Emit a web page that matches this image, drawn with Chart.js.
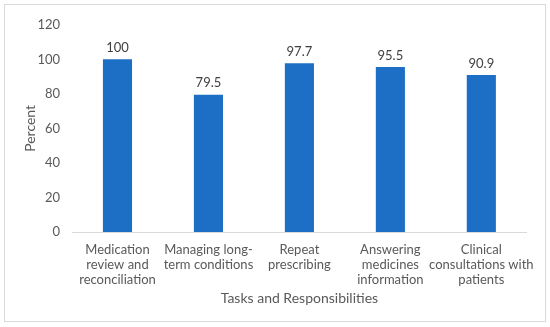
<!DOCTYPE html>
<html>
<head>
<meta charset="utf-8">
<script src="https://cdn.jsdelivr.net/npm/chart.js@4"></script>
<style>
  body { margin: 0; background: #fff; }
  #box { position: absolute; left: 4px; top: 4px; width: 540px; height: 316px; border: 1px solid #d9d9d9; }
</style>
</head>
<body>
<div id="box"><canvas id="myChart" width="540" height="316"></canvas></div>
<script>
// chart data
const categories = [
    ['Medication', 'review and', 'reconciliation'],
    ['Managing long-', 'term conditions'],
    ['Repeat', 'prescribing'],
    ['Answering', 'medicines', 'information'],
    ['Clinical', 'consultations with', 'patients']
]
const percent = [100, 79.5, 97.7, 95.5, 90.9]
const yTicks = [0, 20, 40, 60, 80, 100, 120]

const font = "Lato, 'Liberation Sans', sans-serif"
const grey = '#595959'

// draws the value above each bar
const valueLabels = {
    id: 'valueLabels',
    afterDatasetsDraw(chart) {
        const ctx = chart.ctx
        const meta = chart.getDatasetMeta(0)
        ctx.save()
        ctx.font = '13px ' + font
        ctx.fillStyle = '#404040'
        ctx.textAlign = 'center'
        ctx.textBaseline = 'bottom'
        meta.data.forEach((bar, i) => {
            ctx.fillText(String(percent[i]), bar.x, bar.y - 5)
        })
        ctx.restore()
    }
}

const ctx = document.getElementById('myChart')
const chart = new Chart(ctx, {
    type: 'bar',
    data: {
        labels: categories,
        datasets: [{
            data: percent,
            backgroundColor: '#1c6fc4',
            barPercentage: 0.64,
            categoryPercentage: 0.5
        }]
    },
    options: {
        responsive: false,
        animation: false,
        layout: { padding: { top: 13, right: 14, bottom: 14, left: 13 } },
        plugins: {
            legend: { display: false },
            tooltip: { enabled: false }
        },
        scales: {
            x: {
                grid: { display: false, drawTicks: false },
                border: { color: '#d9d9d9' },
                ticks: { color: grey, font: { family: font, size: 13, lineHeight: 1.15 }, padding: 10, maxRotation: 0, autoSkip: false },
                title: { display: true, text: 'Tasks and Responsibilities', color: grey, font: { family: font, size: 14 }, padding: { top: 2, bottom: 0 } },
                afterFit(scale) { scale.height = 75 }
            },
            y: {
                min: 0,
                max: 120,
                afterBuildTicks(scale) { scale.ticks = yTicks.map(v => ({ value: v })) },
                grid: { display: false, drawTicks: false },
                border: { display: false },
                ticks: { color: grey, font: { family: font, size: 13 }, padding: 12 },
                title: { display: true, text: 'Percent', color: grey, font: { family: font, size: 14 } },
                afterFit(scale) { scale.width = 54 }
            }
        }
    },
    plugins: [valueLabels]
});
</script>
</body>
</html>
